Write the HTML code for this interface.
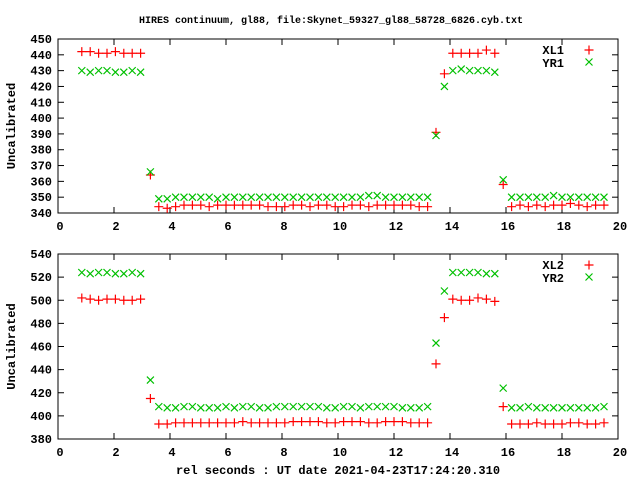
<!DOCTYPE html>
<html><head><meta charset="utf-8"><style>
body{margin:0;background:#fff}
svg text{font-family:"Liberation Mono","DejaVu Sans Mono",monospace;font-weight:bold;font-size:12px;fill:#000}
svg text.title{font-size:10px}
</style></head><body>
<svg id="c" width="640" height="480" xmlns="http://www.w3.org/2000/svg">
<text class="title" x="331" y="23" text-anchor="middle">HIRES continuum, gl88, file:Skynet_59327_gl88_58728_6826.cyb.txt</text>
<text x="338" y="474" text-anchor="middle">rel seconds : UT date 2021-04-23T17:24:20.310</text>
</svg>
<script>
const xs=[0.85,1.15,1.45,1.75,2.05,2.35,2.65,2.95,3.3,
3.6,3.9,4.2,4.5,4.8,5.1,5.4,5.7,6.0,6.3,6.6,6.9,7.2,7.5,7.8,8.1,8.4,8.7,9.0,9.3,9.6,9.9,10.2,10.5,10.8,11.1,11.4,11.7,12.0,12.3,12.6,12.9,13.2,
13.5,13.8,14.1,14.4,14.7,15.0,15.3,15.6,15.9,
16.2,16.5,16.8,17.1,17.4,17.7,18.0,18.3,18.6,18.9,19.2,19.5];
const xl1=[442,442,441,441,442,441,441,441,364,
344,343,344,345,345,345,344,345,345,345,345,345,345,344,344,344,345,345,344,345,345,344,344,345,345,344,345,345,345,345,345,344,344,
391,428,441,441,441,441,443,441,358,
344,345,344,345,344,345,345,346,345,344,345,345];
const yr1=[430,429,430,430,429,429,430,429,366,
349,349,350,350,350,350,350,349,350,350,350,350,350,350,350,350,350,350,350,350,350,350,350,350,350,351,351,350,350,350,350,350,350,
389,420,430,431,430,430,430,429,361,
350,350,350,350,350,351,350,350,350,350,350,350];
const xl2=[502,501,500,501,501,500,500,501,415,
393,393,394,394,394,394,394,394,394,394,395,394,394,394,394,394,395,395,395,395,394,394,395,395,395,394,394,395,395,395,394,394,394,
445,485,501,500,500,502,501,499,408,
393,393,393,394,393,393,393,394,394,393,393,394];
const yr2=[524,523,524,524,523,523,524,523,431,
408,407,407,408,408,407,407,407,408,407,408,408,407,407,408,408,408,408,408,408,407,407,408,408,407,408,408,408,408,407,407,407,408,
463,508,524,524,524,524,523,523,424,
407,407,408,407,407,407,407,407,407,407,407,408];
const xTicks=[0,2,4,6,8,10,12,14,16,18,20];
const yTicks1=[340,350,360,370,380,390,400,410,420,430,440,450];
const yTicks2=[380,400,420,440,460,480,500,520,540];
const NS='http://www.w3.org/2000/svg';
const svg=document.getElementById('c');
function mk(t,a,p){const e=document.createElementNS(NS,t);for(const k in a)e.setAttribute(k,a[k]);(p||svg).appendChild(e);return e;}
function panel(top,bot,ymin,ymax,yt,s1,s2,n1,n2,pname){
 const L=58,R=618;
 const g=mk('g',{});
 
 
 const X=v=>L+(v-0)/(20-0)*(R-L);
 const Y=v=>bot-(v-ymin)/(ymax-ymin)*(bot-top);
 const fr=mk('rect',{x:L,y:top,width:R-L,height:bot-top,fill:'none',stroke:'#000','stroke-width':1},g);
 
 
 xTicks.forEach(t=>{const x=X(t);
  mk('line',{x1:x,y1:bot,x2:x,y2:bot-6,stroke:'#000'},g);
  mk('line',{x1:x,y1:top,x2:x,y2:top+6,stroke:'#000'},g);
  const tx=mk('text',{x:x+2,y:bot+17,'text-anchor':'middle'},g);tx.textContent=t;
  
  });
 yt.forEach(t=>{const y=Y(t);
  mk('line',{x1:L,y1:y,x2:L+6,y2:y,stroke:'#000'},g);
  mk('line',{x1:R,y1:y,x2:R-6,y2:y,stroke:'#000'},g);
  const tx=mk('text',{x:52,y:y+4,'text-anchor':'end'},g);tx.textContent=t;
  
  });
 const yl=mk('text',{x:0,y:0,'text-anchor':'middle',transform:`translate(15,${(top+bot)/2}) rotate(-90)`},g);
 yl.textContent='Uncalibrated';
 
 
 function plus(x,y,p){mk('path',{d:`M${x-4.5},${y}h9M${x},${y-4.5}v9`,stroke:'#f00','stroke-width':1.2,fill:'none'},p);}
 function cross(x,y,p){mk('path',{d:`M${x-3.5},${y-3.5}l7,7M${x-3.5},${y+3.5}l7,-7`,stroke:'#00c000','stroke-width':1.2,fill:'none'},p);}
 const g1=mk('g',{},g);
 
 
 const g2=mk('g',{},g);
 
 
 xs.forEach((v,i)=>{plus(X(v),Y(s1[i]),g1);cross(X(v),Y(s2[i]),g2);});
 const lg=mk('g',{},g);
 
 
 const t1=mk('text',{x:564,y:top+15,'text-anchor':'end'},lg);t1.textContent=n1;
 
 
 plus(589,top+11,lg);
 const t2=mk('text',{x:564,y:top+28,'text-anchor':'end'},lg);t2.textContent=n2;
 
 
 cross(589,top+23,lg);
}
panel(39,213,340,450,yTicks1,xl1,yr1,'XL1','YR1','top-panel');
panel(254,439,380,540,yTicks2,xl2,yr2,'XL2','YR2','bottom-panel');
</script>
</body></html>
